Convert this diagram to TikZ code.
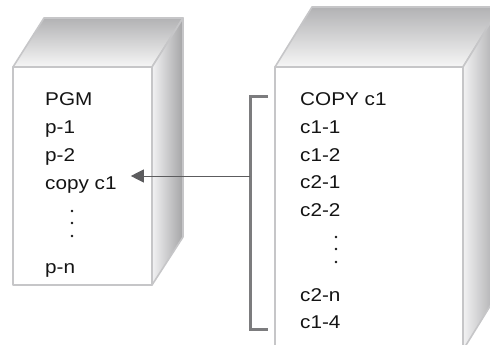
\documentclass[tikz,border=0pt]{standalone}
\usepackage{fontspec}
\setmainfont{Liberation Sans}
\usetikzlibrary{arrows.meta}
\definecolor{edgegray}{HTML}{C6C6C8}
\definecolor{topdark}{HTML}{B2B2B4}
\definecolor{toplight}{HTML}{F6F6F6}
\definecolor{sidelight}{HTML}{F2F2F3}
\definecolor{sidedark}{HTML}{A4A4A6}
\definecolor{brkgray}{HTML}{7C7C7E}
\definecolor{arrgray}{HTML}{5C5C5E}
\definecolor{txt}{HTML}{141414}
\tikzset{
  edge/.style={draw=edgegray, line width=1.6pt, line join=round},
  topface/.style={edge, top color=topdark, bottom color=toplight},
  sideface/.style={edge, left color=sidelight, right color=sidedark},
  frontface/.style={edge, fill=white},
  item/.style={anchor=base west, inner sep=0pt, text=txt,
    font=\fontsize{18.5}{22}\selectfont},
  vdot/.style={fill=txt, draw=none},
  bracket/.style={draw=brkgray, line width=3pt},
  link/.style={draw=arrgray, line width=1pt,
    -{Triangle[length=13pt,width=13pt]}}
}
\newcommand{\wide}[1]{\scalebox{1.12}[1]{#1}}
\begin{document}
\begin{tikzpicture}[x=1pt,y=-1pt]
  \useasboundingbox (0,0) rectangle (490,345);
  \clip (0,0) rectangle (490,345);

  % left cabinet: PGM
  \path[topface]  (13,67) -- (44,18) -- (183,18) -- (152,67) -- cycle;
  \path[sideface] (152,67) -- (183,18) -- (183,237) -- (152,285) -- cycle;
  \path[frontface] (13,67) rectangle (152,285);

  % right cabinet: copy member
  \path[topface]  (275,67) -- (312,7) -- (500,7) -- (463,67) -- cycle;
  \path[sideface] (463,67) -- (500,7) -- (500,290) -- (463,350) -- cycle;
  \path[frontface] (275,67) rectangle (463,350);

  % program listing
  \node[item] (pgm) at (45,106)   {\wide{PGM}};
  \node[item] (p1)  at (45,133.7) {\wide{p-1}};
  \node[item] (p2)  at (45,161.4) {\wide{p-2}};
  \node[item] (cp)  at (45,189.1) {\wide{copy c1}};
  \fill[vdot] (72,211) circle (1.3);
  \fill[vdot] (72,223) circle (1.3);
  \fill[vdot] (72,236) circle (1.3);
  \node[item] (pn)  at (45,273)   {\wide{p-n}};

  % copy member listing
  \node[item] (hd)  at (300,106)   {\wide{COPY c1}};
  \node[item] (a11) at (300,133.6) {\wide{c1-1}};
  \node[item] (a12) at (300,161.2) {\wide{c1-2}};
  \node[item] (a21) at (300,188.8) {\wide{c2-1}};
  \node[item] (a22) at (300,216.4) {\wide{c2-2}};
  \fill[vdot] (336,237) circle (1.3);
  \fill[vdot] (336,249) circle (1.3);
  \fill[vdot] (336,262) circle (1.3);
  \node[item] (a2n) at (300,301) {\wide{c2-n}};
  \node[item] (a14) at (300,328) {\wide{c1-4}};

  % bracket spanning the copy member
  \coordinate (btop) at (268,96.5);
  \coordinate (bbot) at (268,329.5);
  \coordinate (brk)  at (250,176);
  \draw[bracket] (btop) -- (250,96.5) -- (250,329.5) -- (bbot);

  % inclusion arrow
  \draw[link] (brk) -- ([xshift=14pt]brk -| cp.east);
\end{tikzpicture}
\end{document}
